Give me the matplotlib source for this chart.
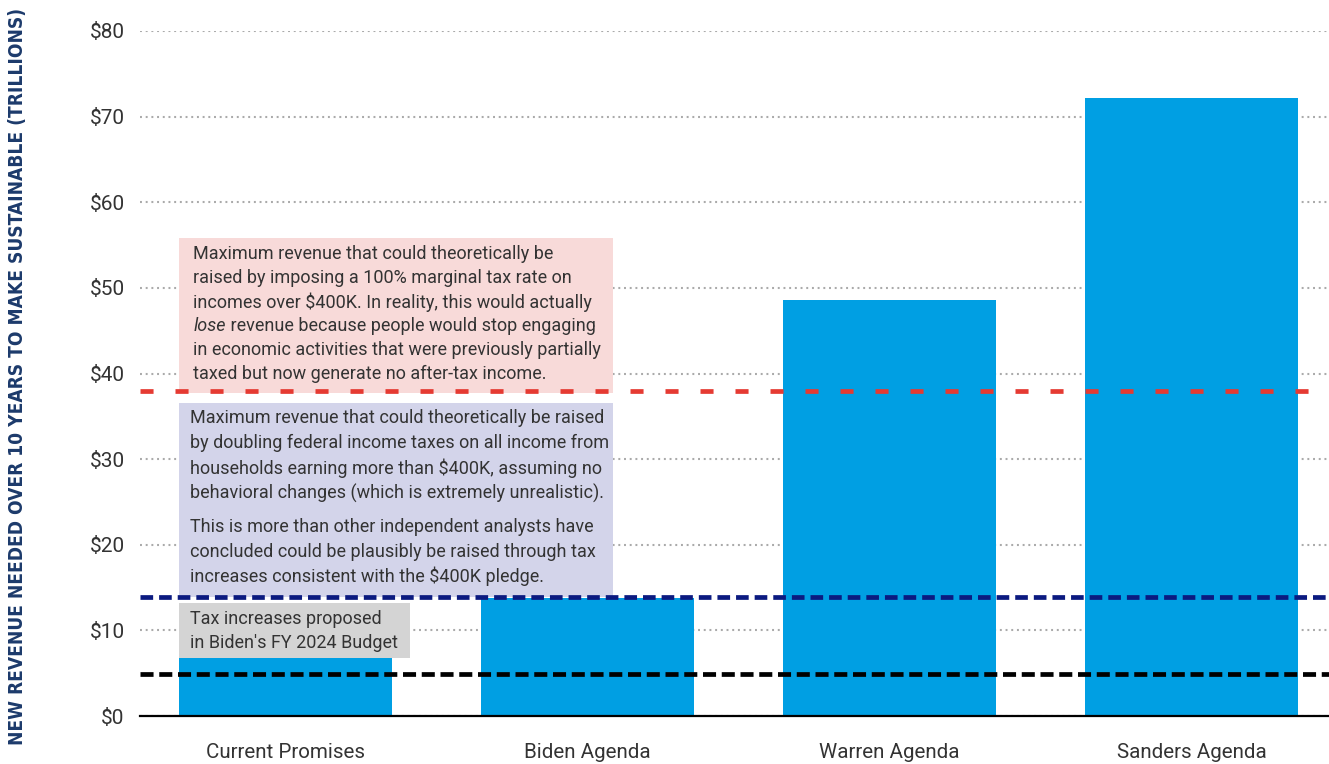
import matplotlib
matplotlib.use('Agg')
import matplotlib.pyplot as plt
from matplotlib.patches import Rectangle

plt.rcParams['font.family'] = ['Roboto', 'DejaVu Sans']
plt.rcParams['lines.scale_dashes'] = False

# data (trillions of dollars, 10-year horizon)
categories = ['Current Promises', 'Biden Agenda', 'Warren Agenda', 'Sanders Agenda']
needed = [6.9, 13.8, 48.6, 72.2]
yticks = [0, 10, 20, 30, 40, 50, 60, 70, 80]

# reference levels
budget_fy2024 = 4.9       # tax increases in Biden's FY 2024 budget
double_income_tax = 13.85  # doubling federal income tax above $400K
full_marginal_rate = 38.0  # 100% marginal rate above $400K

pink_lines = [
    'Maximum revenue that could theoretically be',
    'raised by imposing a 100% marginal tax rate on',
    'incomes over $400K. In reality, this would actually',
    None,  # "lose" line, italic first word
    'in economic activities that were previously partially',
    'taxed but now generate no after-tax income.',
]
purple_lines = [
    'Maximum revenue that could theoretically be raised',
    'by doubling federal income taxes on all income from',
    'households earning more than $400K, assuming no',
    'behavioral changes (which is extremely unrealistic).',
    'This is more than other independent analysts have',
    'concluded could be plausibly be raised through tax',
    'increases consistent with the $400K pledge.',
]
gray_lines = ['Tax increases proposed', "in Biden's FY 2024 Budget"]

BAR = '#009FE3'
TXT = '#333333'
PX = 0.72  # points per pixel at dpi 100
NOTE_FS = 12.95

fig = plt.figure(figsize=(13.29, 7.64), dpi=100)
ax = fig.add_axes([140 / 1329, 48 / 764, 1189 / 1329, 685 / 764])

x = list(range(len(categories)))
width = 0.705
ax.bar(x, needed, width, color=BAR, zorder=2)

ax.set_xlim(-0.482, 3.455)
ax.set_ylim(0, 80)
ax.set_yticks(yticks)
ax.set_yticklabels([f'${v}' for v in yticks], fontsize=15, color=TXT)
ax.set_xticks(x)
ax.set_xticklabels(categories, fontsize=14.8, color=TXT)
ax.tick_params(axis='both', length=0)
ax.tick_params(axis='y', pad=11)
ax.tick_params(axis='x', pad=19.5)

ax.yaxis.grid(True, color='#aaaaaa', linewidth=1.5, linestyle=(0, (1.4, 2.7)), zorder=0)
ax.set_axisbelow(True)
for s in ['left', 'right', 'top']:
    ax.spines[s].set_visible(False)
ax.spines['bottom'].set_linewidth(1.6)
ax.spines['bottom'].set_zorder(4)

# annotation boxes
left = -width / 2
ax.add_patch(Rectangle((left, 37.7), 1.084 - left, 55.83 - 37.7,
                       facecolor='#F8DAD9', edgecolor='none', zorder=3))
ax.add_patch(Rectangle((left, 13.9), 1.084 - left, 36.55 - 13.9,
                       facecolor='#D3D4EA', edgecolor='none', zorder=3))
ax.add_patch(Rectangle((left, 6.77), 0.412 - left, 13.2 - 6.77,
                       facecolor='#D4D4D4', edgecolor='none', zorder=3))

# reference lines
ax.axhline(full_marginal_rate, color='#E53A32', linewidth=3.4,
           linestyle=(0, (9.4, 15.8)), zorder=4)
ax.axhline(double_income_tax, color='#0B1A80', linewidth=3.4,
           linestyle=(0, (9.1, 4.3)), zorder=4)
ax.axhline(budget_fy2024, color='black', linewidth=3.4,
           linestyle=(0, (9.4, 4.1)), zorder=4)


def box_text(line, top, dx, dy, **kw):
    return ax.annotate(line, xy=(left, top), xytext=(dx * PX, -dy * PX),
                       textcoords='offset points', ha='left', va='center',
                       fontsize=NOTE_FS, color=TXT, zorder=5, **kw)


for i, line in enumerate(pink_lines):
    if line is None:
        t = box_text('lose', 55.83, 14, 16 + 24 * i, style='italic')
        ax.annotate(' revenue because people would stop engaging', xy=(1, 0),
                    xycoords=t, ha='left', va='bottom', fontsize=NOTE_FS,
                    color=TXT, zorder=5)
    else:
        box_text(line, 55.83, 14, 16 + 24 * i)

for line, dy in zip(purple_lines, [15, 40, 65, 90, 124, 149, 173]):
    box_text(line, 36.55, 11, dy)

for i, line in enumerate(gray_lines):
    box_text(line, 13.2, 11, 16 + 24 * i)

# vertical axis title in a condensed bold face, sized to run 737 px
ylab = fig.text(18 / 1329, 0.507,
                'NEW REVENUE NEEDED OVER 10 YEARS TO MAKE SUSTAINABLE (TRILLIONS)',
                rotation=90, ha='center', va='center', fontsize=15,
                family='DejaVu Sans', stretch='condensed', weight='bold',
                color='#1C3A6B')
renderer = fig.canvas.get_renderer()
span = ylab.get_window_extent(renderer).height
ylab.set_fontsize(15 * 737 / span)

fig.savefig('out.png', dpi=100, facecolor='white')
